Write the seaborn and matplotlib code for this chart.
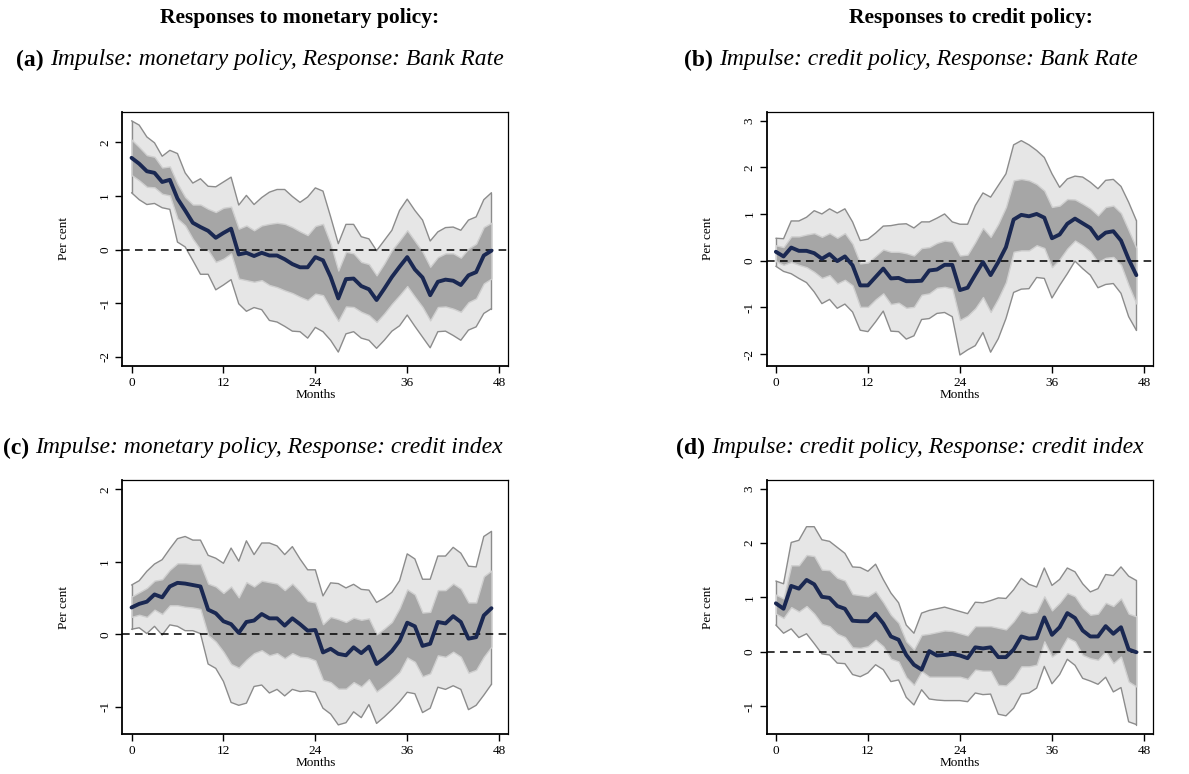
import numpy as np
import pandas as pd
import matplotlib
matplotlib.use("Agg")
import matplotlib.pyplot as plt
import seaborn as sns

months = list(range(48))
x_ticks = [0, 12, 24, 36, 48]

# ---- Panel (a): monetary policy -> Bank Rate
a_med = [1.71,1.60,1.46,1.43,1.26,1.30,0.95,0.73,0.50,0.42,
         0.35,0.22,0.31,0.39,-0.09,-0.06,-0.12,-0.06,-0.11,-0.11,
         -0.18,-0.27,-0.33,-0.33,-0.14,-0.20,-0.51,-0.91,-0.55,-0.54,
         -0.68,-0.74,-0.94,-0.73,-0.51,-0.32,-0.14,-0.37,-0.52,-0.85,
         -0.60,-0.56,-0.58,-0.66,-0.48,-0.42,-0.11,-0.02]
a_out_hi = [2.40,2.32,2.10,1.99,1.74,1.85,1.79,1.43,1.24,1.32,
            1.18,1.17,1.26,1.35,0.83,1.01,0.84,0.97,1.07,1.12,
            1.12,0.99,0.88,0.98,1.15,1.09,0.61,0.11,0.47,0.47,
            0.24,0.20,-0.02,0.17,0.36,0.73,0.94,0.73,0.55,0.16,
            0.33,0.41,0.42,0.36,0.55,0.61,0.93,1.06]
a_out_lo = [1.06,0.93,0.84,0.86,0.78,0.75,0.14,0.05,-0.20,-0.46,
            -0.46,-0.75,-0.66,-0.56,-1.01,-1.15,-1.08,-1.12,-1.32,-1.35,
            -1.43,-1.52,-1.53,-1.65,-1.45,-1.53,-1.69,-1.91,-1.57,-1.53,
            -1.65,-1.69,-1.84,-1.69,-1.52,-1.42,-1.22,-1.43,-1.63,-1.83,
            -1.53,-1.52,-1.60,-1.69,-1.50,-1.44,-1.19,-1.10]
a_in_hi = [2.05,1.91,1.76,1.73,1.53,1.55,1.23,0.98,0.84,0.84,
           0.76,0.70,0.78,0.80,0.39,0.45,0.36,0.45,0.48,0.50,
           0.48,0.42,0.34,0.27,0.44,0.48,0.11,-0.39,-0.04,-0.07,
           -0.23,-0.27,-0.48,-0.26,-0.01,0.17,0.36,0.16,-0.04,-0.32,
           -0.14,-0.07,-0.07,-0.15,0.02,0.11,0.42,0.50]
a_in_lo = [1.39,1.29,1.17,1.16,1.04,1.01,0.58,0.45,0.20,0.00,
           -0.01,-0.23,-0.17,-0.07,-0.54,-0.57,-0.60,-0.57,-0.66,-0.70,
           -0.76,-0.81,-0.88,-0.94,-0.82,-0.85,-1.10,-1.33,-1.06,-1.07,
           -1.16,-1.22,-1.35,-1.19,-1.01,-0.85,-0.68,-0.88,-1.07,-1.32,
           -1.07,-1.06,-1.10,-1.16,-0.98,-0.91,-0.63,-0.54]

# ---- Panel (b): credit policy -> Bank Rate
b_med = [0.19,0.09,0.28,0.21,0.21,0.16,0.04,0.14,-0.01,0.09,
         -0.10,-0.53,-0.53,-0.35,-0.17,-0.38,-0.37,-0.44,-0.44,-0.43,
         -0.21,-0.19,-0.09,-0.09,-0.63,-0.58,-0.30,-0.03,-0.31,-0.03,
         0.29,0.88,0.98,0.95,1.00,0.92,0.48,0.56,0.79,0.90,
         0.80,0.70,0.47,0.60,0.63,0.43,0.03,-0.31]
b_out_hi = [0.48,0.47,0.85,0.85,0.93,1.07,1.00,1.11,1.02,1.11,
            0.83,0.43,0.46,0.59,0.74,0.75,0.78,0.79,0.70,0.83,
            0.83,0.91,1.00,0.83,0.78,0.78,1.18,1.45,1.36,1.61,
            1.86,2.48,2.57,2.48,2.36,2.21,1.86,1.57,1.75,1.81,
            1.79,1.68,1.54,1.72,1.74,1.59,1.25,0.86]
b_out_lo = [-0.12,-0.23,-0.28,-0.38,-0.47,-0.67,-0.92,-0.83,-1.02,-0.93,
            -1.10,-1.49,-1.52,-1.31,-1.08,-1.51,-1.52,-1.68,-1.61,-1.26,
            -1.24,-1.13,-1.11,-1.20,-2.02,-1.91,-1.82,-1.54,-1.96,-1.67,
            -1.24,-0.68,-0.61,-0.60,-0.36,-0.38,-0.80,-0.53,-0.28,-0.01,
            -0.17,-0.31,-0.58,-0.51,-0.49,-0.70,-1.20,-1.49]
b_in_hi = [0.33,0.29,0.52,0.52,0.56,0.59,0.51,0.59,0.49,0.59,
           0.36,-0.06,-0.04,0.10,0.24,0.19,0.19,0.16,0.11,0.27,
           0.29,0.38,0.43,0.41,0.11,0.13,0.40,0.70,0.51,0.79,
           1.15,1.72,1.75,1.72,1.64,1.50,1.15,1.18,1.32,1.31,
           1.22,1.12,0.97,1.15,1.18,1.02,0.65,0.27]
b_in_lo = [-0.01,-0.09,-0.03,-0.09,-0.14,-0.24,-0.37,-0.31,-0.49,-0.41,
           -0.53,-0.99,-0.99,-0.83,-0.70,-0.93,-0.90,-1.01,-0.99,-0.73,
           -0.70,-0.58,-0.56,-0.60,-1.27,-1.18,-1.02,-0.78,-1.10,-0.81,
           -0.46,0.19,0.22,0.22,0.33,0.27,-0.14,0.03,0.26,0.43,
           0.33,0.20,-0.03,0.06,0.08,-0.09,-0.53,-0.92]

# ---- Panel (c): monetary policy -> credit index
c_med = [0.37,0.42,0.45,0.55,0.51,0.66,0.71,0.70,0.68,0.66,
         0.34,0.29,0.18,0.14,0.02,0.17,0.19,0.28,0.22,0.22,
         0.12,0.22,0.14,0.05,0.06,-0.25,-0.20,-0.27,-0.29,-0.18,
         -0.26,-0.17,-0.41,-0.33,-0.23,-0.09,0.16,0.11,-0.16,-0.13,
         0.17,0.15,0.25,0.17,-0.06,-0.04,0.26,0.36]
c_out_hi = [0.68,0.74,0.87,0.97,1.03,1.18,1.32,1.35,1.30,1.30,
            1.09,1.05,0.98,1.19,1.01,1.29,1.10,1.26,1.26,1.22,
            1.10,1.21,1.04,0.89,0.89,0.53,0.71,0.70,0.64,0.69,
            0.62,0.61,0.44,0.50,0.58,0.74,1.11,1.04,0.76,0.76,
            1.08,1.08,1.20,1.12,0.94,0.93,1.35,1.42]
c_out_lo = [0.07,0.09,0.01,0.11,-0.01,0.13,0.11,0.05,0.05,0.01,
            -0.41,-0.47,-0.65,-0.94,-0.98,-0.95,-0.72,-0.70,-0.81,-0.76,
            -0.85,-0.76,-0.79,-0.78,-0.80,-1.02,-1.10,-1.25,-1.22,-1.07,
            -1.15,-0.97,-1.23,-1.14,-1.04,-0.93,-0.80,-0.82,-1.08,-1.02,
            -0.73,-0.76,-0.71,-0.76,-1.04,-0.98,-0.84,-0.69]
c_in_hi = [0.52,0.58,0.64,0.74,0.76,0.89,0.98,0.98,0.97,0.97,
           0.70,0.66,0.57,0.66,0.51,0.72,0.66,0.74,0.72,0.70,
           0.61,0.70,0.59,0.46,0.44,0.14,0.24,0.21,0.17,0.23,
           0.20,0.22,0.00,0.08,0.17,0.36,0.62,0.55,0.30,0.31,
           0.61,0.61,0.70,0.63,0.44,0.44,0.80,0.88]
c_in_lo = [0.24,0.27,0.24,0.34,0.28,0.40,0.40,0.38,0.37,0.35,
           -0.01,-0.10,-0.24,-0.41,-0.46,-0.35,-0.26,-0.22,-0.29,-0.26,
           -0.33,-0.26,-0.31,-0.32,-0.36,-0.63,-0.66,-0.75,-0.75,-0.66,
           -0.72,-0.62,-0.79,-0.71,-0.62,-0.52,-0.32,-0.38,-0.58,-0.54,
           -0.29,-0.31,-0.24,-0.31,-0.53,-0.49,-0.31,-0.17]

# ---- Panel (d): credit policy -> credit index
d_med = [0.89,0.79,1.21,1.16,1.32,1.24,1.01,0.99,0.84,0.79,
         0.57,0.56,0.56,0.70,0.52,0.28,0.22,-0.06,-0.24,-0.33,
         0.01,-0.07,-0.06,-0.04,-0.07,-0.12,0.08,0.06,0.08,-0.10,
         -0.10,0.04,0.28,0.24,0.25,0.63,0.31,0.45,0.71,0.62,
         0.39,0.28,0.28,0.47,0.33,0.45,0.04,-0.01]
d_out_hi = [1.30,1.25,2.01,2.05,2.30,2.30,2.06,2.03,1.92,1.81,
            1.56,1.55,1.48,1.61,1.33,1.08,0.90,0.49,0.34,0.71,
            0.76,0.79,0.82,0.78,0.74,0.70,0.91,0.90,0.94,0.99,
            0.98,1.14,1.35,1.24,1.19,1.54,1.22,1.33,1.54,1.47,
            1.25,1.10,1.16,1.42,1.40,1.56,1.39,1.31]
d_out_lo = [0.49,0.34,0.42,0.26,0.33,0.15,-0.04,-0.06,-0.21,-0.22,
            -0.42,-0.46,-0.39,-0.24,-0.33,-0.55,-0.52,-0.84,-0.98,-0.70,
            -0.87,-0.89,-0.90,-0.90,-0.90,-0.92,-0.76,-0.79,-0.78,-1.15,
            -1.18,-1.04,-0.78,-0.76,-0.67,-0.27,-0.59,-0.42,-0.14,-0.25,
            -0.49,-0.54,-0.60,-0.47,-0.74,-0.66,-1.29,-1.34]
d_in_hi = [1.05,0.98,1.59,1.59,1.78,1.76,1.51,1.50,1.36,1.31,
           1.06,1.04,1.02,1.11,0.91,0.68,0.53,0.19,0.04,0.31,
           0.33,0.36,0.39,0.38,0.34,0.30,0.47,0.47,0.47,0.44,
           0.41,0.56,0.76,0.71,0.73,1.02,0.76,0.90,1.08,1.02,
           0.81,0.68,0.70,0.90,0.84,0.98,0.70,0.65]
d_in_lo = [0.70,0.62,0.82,0.74,0.84,0.70,0.51,0.47,0.33,0.27,
           0.08,0.07,0.10,0.22,0.10,-0.13,-0.18,-0.47,-0.61,-0.36,
           -0.46,-0.46,-0.46,-0.46,-0.46,-0.50,-0.33,-0.35,-0.35,-0.61,
           -0.62,-0.49,-0.27,-0.27,-0.24,0.19,-0.09,0.01,0.26,0.19,
           -0.06,-0.12,-0.15,0.01,-0.21,-0.09,-0.55,-0.64]

column_titles = ["Responses to monetary policy:", "Responses to credit policy:"]
panel_letters = ["(a)", "(b)", "(c)", "(d)"]
panel_texts = ["Impulse: monetary policy, Response: Bank Rate",
               "Impulse: credit policy, Response: Bank Rate",
               "Impulse: monetary policy, Response: credit index",
               "Impulse: credit policy, Response: credit index"]
y_ticks = [[-2, -1, 0, 1, 2], [-2, -1, 0, 1, 2, 3], [-1, 0, 1, 2], [-1, 0, 1, 2, 3]]
x_label = "Months"
y_label = "Per cent"

sns.set_theme(style="ticks")
SERIF = ["Liberation Serif", "DejaVu Serif"]
plt.rcParams["font.family"] = SERIF
plt.rcParams["text.color"] = "black"
plt.rcParams["axes.labelcolor"] = "black"
plt.rcParams["xtick.color"] = "black"
plt.rcParams["ytick.color"] = "black"

fig = plt.figure(figsize=(11.89, 7.74), dpi=100)

panels = [
    (a_med, a_out_lo, a_out_hi, a_in_lo, a_in_hi),
    (b_med, b_out_lo, b_out_hi, b_in_lo, b_in_hi),
    (c_med, c_out_lo, c_out_hi, c_in_lo, c_in_hi),
    (d_med, d_out_lo, d_out_hi, d_in_lo, d_in_hi),
]
positions = [
    [0.1029, 0.5271, 0.3246, 0.3286],
    [0.6448, 0.5275, 0.3251, 0.3282],
    [0.1029, 0.0513, 0.3246, 0.3286],
    [0.6448, 0.0513, 0.3251, 0.3286],
]
ylims = [(-2.17, 2.57), (-2.25, 3.19), (-1.38, 2.13), (-1.52, 3.16)]

OUT_FILL = "#e6e6e6"
OUT_EDGE = "#8c8c8c"
IN_FILL = "#a6a6a6"
IN_EDGE = "#cfcfcf"
MED = "#1a2852"

for i, (med, olo, ohi, ilo, ihi) in enumerate(panels):
    ax = fig.add_axes(positions[i])
    df = pd.DataFrame({"month": months, "median": med,
                       "out_lo": olo, "out_hi": ohi, "in_lo": ilo, "in_hi": ihi})
    ax.fill_between(df["month"], df["out_lo"], df["out_hi"], facecolor=OUT_FILL,
                    edgecolor="none", zorder=1)
    ax.plot(df["month"], df["out_hi"], color=OUT_EDGE, lw=1.0, zorder=1.5)
    ax.plot(df["month"], df["out_lo"], color=OUT_EDGE, lw=1.0, zorder=1.5)
    ax.plot([47, 47], [olo[-1], ohi[-1]], color=OUT_EDGE, lw=1.0, zorder=1.5)
    ax.plot([0, 0], [olo[0], ohi[0]], color=OUT_EDGE, lw=1.0, zorder=1.5)
    ax.fill_between(df["month"], df["in_lo"], df["in_hi"], facecolor=IN_FILL,
                    edgecolor=IN_EDGE, lw=1.0, zorder=2)
    ax.axhline(0, color="black", lw=1.1, ls=(0, (5, 3.5)), zorder=3)
    sns.lineplot(data=df, x="month", y="median", ax=ax, color=MED, lw=2.8, zorder=4)

    ax.set_xlim(-1.2, 49.2)
    ax.set_ylim(*ylims[i])
    ax.set_xticks(x_ticks)
    ax.set_yticks(y_ticks[i])
    ax.set_xticklabels([str(t) for t in x_ticks])
    ax.set_yticklabels([str(t) for t in y_ticks[i]], rotation=90, va="center")
    ax.tick_params(axis="both", direction="out", length=5, width=1.0,
                   labelsize=9.5, color="black", labelcolor="black", pad=3)
    ax.set_xlabel(x_label, fontsize=9.5, labelpad=0)
    ax.set_ylabel(y_label, fontsize=9.5, labelpad=21)
    for side, sp in ax.spines.items():
        sp.set_visible(True)
        sp.set_color("black")
        sp.set_linewidth(1.3 if side in ("left", "bottom") else 0.9)
    ax.set_facecolor("white")

# column headings
fig.text(300 / 1189, 1 - 18 / 774, column_titles[0], ha="center", va="center",
         fontsize=15.5, fontweight="bold", family=SERIF, color="black")
fig.text(971 / 1189, 1 - 18 / 774, column_titles[1], ha="center", va="center",
         fontsize=15.5, fontweight="bold", family=SERIF, color="black")

# subcaptions: bold letter + italic text, centred as a group
CAP_FS = 17
cap_pos = [(260, 60), (911, 60), (253, 448), (910, 448)]
fig.canvas.draw()
r = fig.canvas.get_renderer()
for (cx, cy), letter, txt in zip(cap_pos, panel_letters, panel_texts):
    tmp = fig.text(0, 0, letter + " ", fontsize=CAP_FS, fontweight="bold", family=SERIF)
    tmp2 = fig.text(0, 0, txt, fontsize=CAP_FS, fontstyle="italic", family=SERIF)
    w1 = tmp.get_window_extent(r).width
    w2 = tmp2.get_window_extent(r).width
    tmp.remove(); tmp2.remove()
    x0 = max(3, cx - (w1 + w2) / 2)
    x0 = min(x0, 1189 - 3 - (w1 + w2))
    fig.text(x0 / 1189, 1 - cy / 774, letter + " ", ha="left", va="center",
             fontsize=CAP_FS, fontweight="bold", family=SERIF, color="black")
    fig.text((x0 + w1) / 1189, 1 - cy / 774, txt, ha="left", va="center",
             fontsize=CAP_FS, fontstyle="italic", family=SERIF, color="black")

fig.savefig("out.png", dpi=100, facecolor="white")
